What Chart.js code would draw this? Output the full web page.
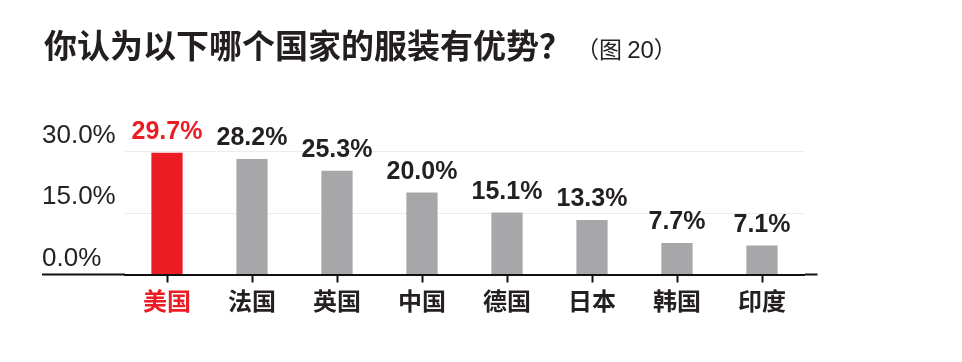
<!DOCTYPE html>
<html>
<head>
<meta charset="utf-8">
<script src="https://cdn.jsdelivr.net/npm/chart.js@4.4.0/dist/chart.umd.min.js"></script>
<style>
  html, body { margin: 0; padding: 0; background: #fff; }
  #wrap { position: relative; width: 962px; height: 362px; }
  #title {
    position: absolute; left: 44px; top: 25px;
    font-family: "Noto Sans CJK SC", sans-serif;
    font-size: 33px; font-weight: bold; line-height: 38px;
    color: #231f20; white-space: nowrap;
  }
  #title span {
    font-family: "Noto Sans CJK SC", sans-serif;
    font-size: 23px; font-weight: normal; margin-left: 4px;
  }
  #title span b { font-family: "Liberation Sans", Arial, sans-serif; font-weight: normal; font-size: 24px; }
  canvas { position: absolute; left: 0; top: 0; }
</style>
</head>
<body>
<div id="wrap">
  <canvas id="chart" width="962" height="362"></canvas>
  <div id="title">你认为以下哪个国家的服装有优势？<span>（图 <b>20</b>）</span></div>
</div>
<script>
// data
const countries = ["美国", "法国", "英国", "中国", "德国", "日本", "韩国", "印度"];
const shares = [29.7, 28.2, 25.3, 20.0, 15.1, 13.3, 7.7, 7.1];
const yTicks = [0, 15, 30];

const RED = "#ec1c24";
const GREY = "#a7a7aa";
const INK = "#231f22";

// value labels above the bars
const valueLabels = {
  id: "valueLabels",
  afterDatasetsDraw(chart) {
    const ctx = chart.ctx;
    const meta = chart.getDatasetMeta(0);
    ctx.save();
    ctx.font = "bold 25px 'Liberation Sans', Arial, sans-serif";
    ctx.textAlign = "center";
    ctx.textBaseline = "bottom";
    meta.data.forEach((bar, i) => {
      ctx.fillStyle = i === 0 ? RED : INK;
      ctx.fillText(shares[i].toFixed(1) + "%", bar.x, bar.y - 8);
    });
    ctx.restore();
  }
};

const zeroTick = (ctx) => (ctx.tick && ctx.tick.value === 0 ? "#111" : "rgba(0,0,0,0)");

new Chart(document.getElementById("chart"), {
  type: "bar",
  data: {
    labels: countries,
    datasets: [{
      data: shares,
      backgroundColor: countries.map((c, i) => (i === 0 ? RED : GREY)),
      borderWidth: 0,
      barPercentage: 0.75,
      categoryPercentage: 0.49
    }]
  },
  options: {
    responsive: false,
    animation: false,
    layout: { padding: { left: 42, right: 144.5, top: 131, bottom: 42.7 } },
    plugins: {
      legend: { display: false },
      tooltip: { enabled: false }
    },
    scales: {
      x: {
        offset: true,
        grid: {
          offset: false,
          drawOnChartArea: false,
          tickLength: 8,
          tickWidth: 2,
          tickColor: "#111"
        },
        border: { color: "#111", width: 2 },
        ticks: {
          padding: 4,
          color: (ctx) => (ctx.index === 0 ? RED : INK),
          font: { family: "'Noto Sans CJK SC', sans-serif", size: 24, weight: "bold" }
        }
      },
      y: {
        min: 0,
        max: 35,
        afterBuildTicks: (scale) => { scale.ticks = yTicks.map(v => ({ value: v })); },
        afterFit: (scale) => { scale.width = 82.5; },
        border: { display: false },
        grid: {
          color: "#ececec",
          lineWidth: 1,
          tickLength: 82.5,
          tickWidth: 2,
          tickColor: zeroTick
        },
        ticks: {
          crossAlign: "far",
          labelOffset: -16,
          color: "#222",
          font: { family: "'Liberation Sans', Arial, sans-serif", size: 26 },
          callback: (v) => v.toFixed(1) + "%"
        }
      },
      y2: {
        position: "right",
        min: 0,
        max: 35,
        afterBuildTicks: (scale) => { scale.ticks = yTicks.map(v => ({ value: v })); },
        border: { display: false },
        grid: {
          drawOnChartArea: false,
          tickLength: 13,
          tickWidth: 2,
          tickColor: zeroTick
        },
        ticks: { display: false }
      }
    }
  },
  plugins: [valueLabels]
});
</script>
</body>
</html>
